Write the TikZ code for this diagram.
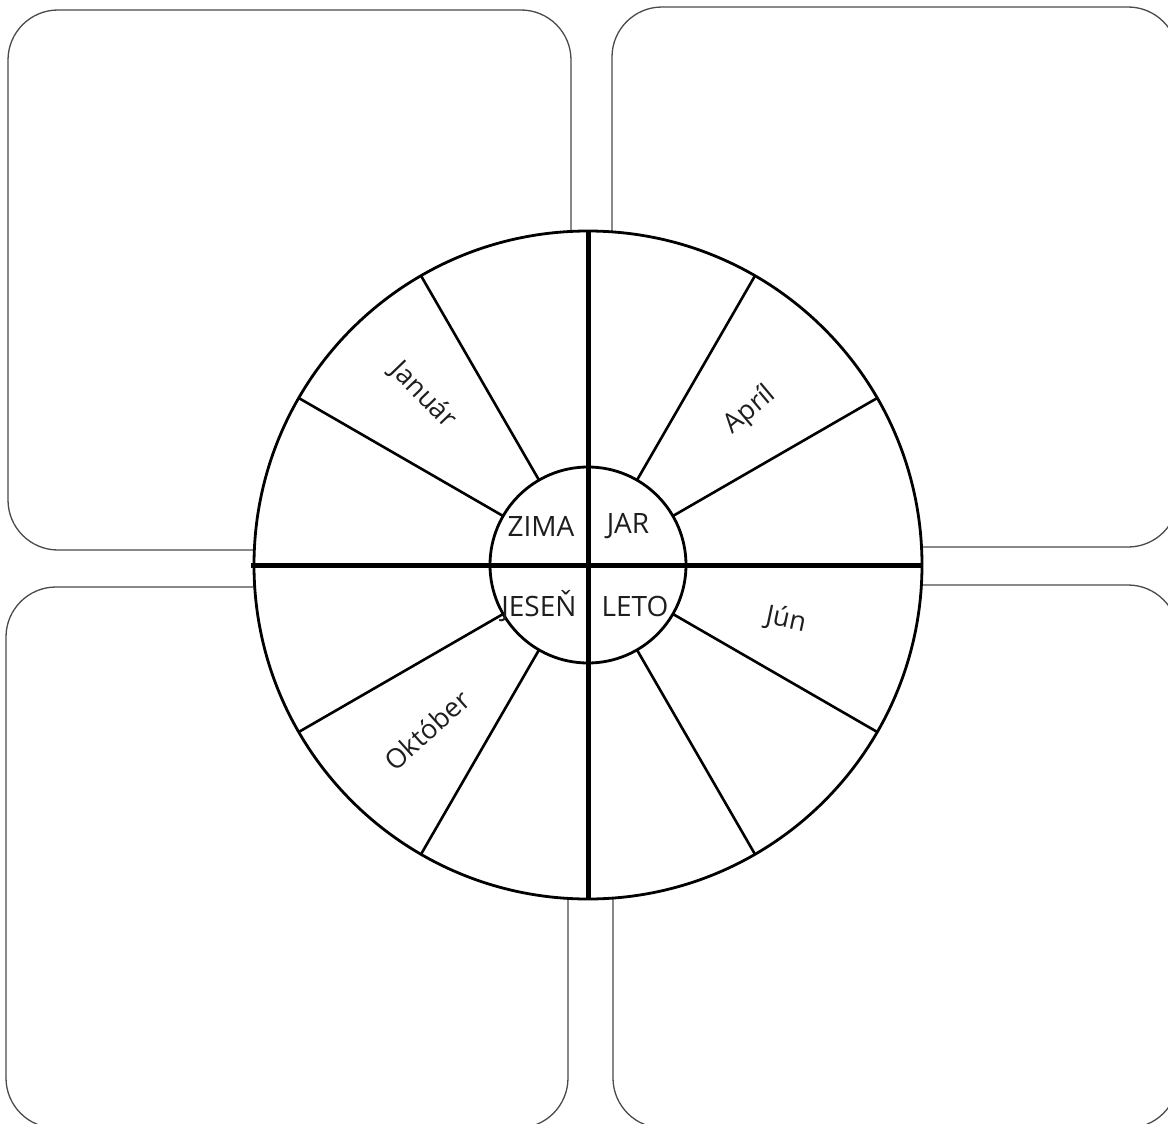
\documentclass[tikz,border=0pt]{standalone}
\usepackage{fontspec}
\setmainfont{Open Sans}
\usetikzlibrary{positioning}
\definecolor{Frame}{HTML}{4A4A4A}
\definecolor{Ink}{HTML}{1E1E1E}

\begin{document}
\begin{tikzpicture}[x=1pt,y=-1pt,
  quad/.style={draw=Frame,line width=1.3pt,rounded corners=50pt,inner sep=0pt},
  ring/.style={draw=black,line width=2.8pt,circle,inner sep=0pt,outer sep=0pt},
  spoke/.style={line width=2.6pt},
  axis/.style={line width=5pt},
  season/.style={font=\fontsize{28}{32}\selectfont,text=Ink,inner sep=0pt},
  mon/.style={font=\fontsize{27}{30}\selectfont,text=Ink,inner sep=0pt}
]
\useasboundingbox (0,0) rectangle (1168,1124);
% four season panels
\node[quad,minimum width=563pt,minimum height=540pt] (winter) at (289.5,280) {};
\node[quad,minimum width=566pt,minimum height=540pt] (spring) at (895,277) {};
\node[quad,minimum width=562pt,minimum height=541pt] (autumn) at (287,857.5) {};
\node[quad,minimum width=565pt,minimum height=543pt] (summer) at (895.5,856.5) {};
% the wheel
\node[ring,fill=white,minimum size=668pt] (wheel) at (588,565) {};
\node[ring,minimum size=196pt] (hub) at (wheel.center) {};
\foreach \a in {30,60,120,150,210,240,300,330}
  \draw[spoke] (hub.\a) -- (wheel.\a);
\draw[axis] (wheel.north) -- (wheel.south);
\draw[axis] ([xshift=-3pt]wheel.west) -- (wheel.east);
% seasons
\node[season] (zima) at (541,526) {ZIMA};
\node[season] (jar) at (628,526) {JAR};
\node[season] (jesen) at (539,606) {JESEŇ};
\node[season] (leto) at (635,606) {LETO};
% months
\node[mon,rotate=-46] (jan) at (423,395) {Január};
\node[mon,rotate=40] (apr) at (750,410) {Apríl};
\node[mon,rotate=-12] (jun) at (786,620) {Jún};
\node[mon,rotate=42] (okt) at (427,730) {Október};
\end{tikzpicture}
\end{document}
